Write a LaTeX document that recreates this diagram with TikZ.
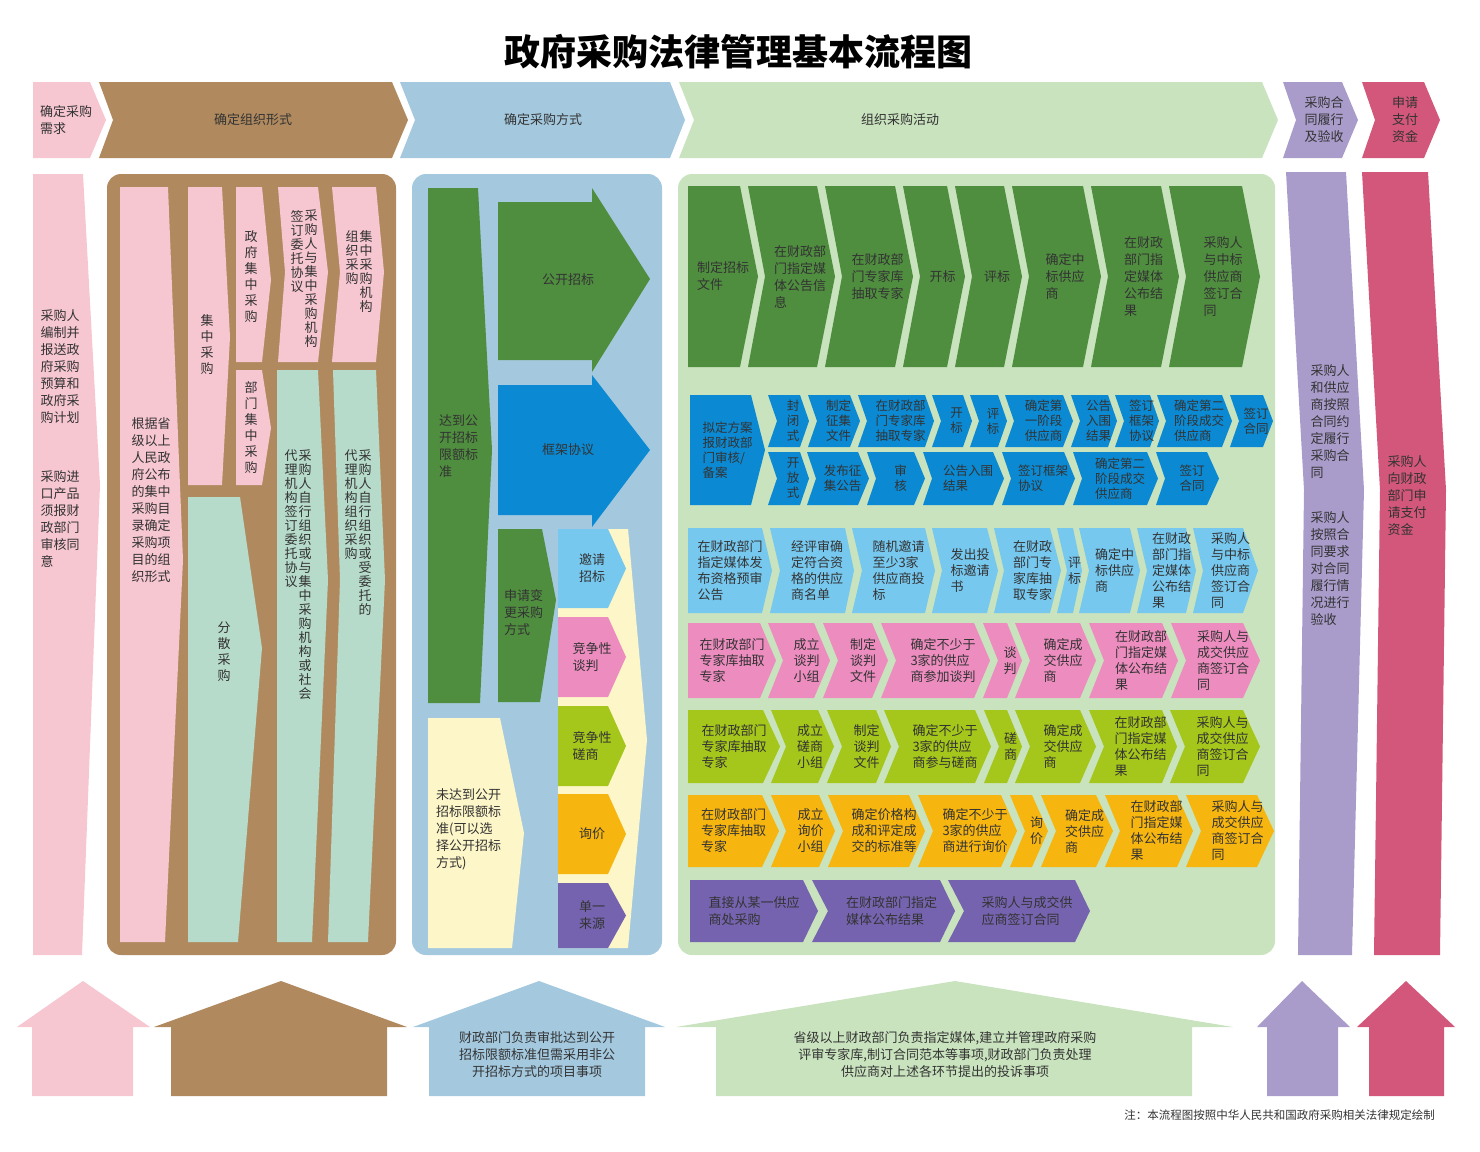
\documentclass[tikz,border=0pt]{standalone}
\usepackage{fontspec}
\setmainfont{Noto Sans CJK SC}
\usetikzlibrary{positioning}

\definecolor{needpink}{HTML}{F6C6D1}
\definecolor{formbrown}{HTML}{B08A5E}
\definecolor{wayblue}{HTML}{A4C9DF}
\definecolor{actgreen}{HTML}{C9E3BE}
\definecolor{checkpurple}{HTML}{A99CCB}
\definecolor{payred}{HTML}{D2577A}
\definecolor{mint}{HTML}{B6DBCA}
\definecolor{darkgreen}{HTML}{4F8D3F}
\definecolor{frameblue}{HTML}{0B89D2}
\definecolor{skyblue}{HTML}{76C8EF}
\definecolor{talkpink}{HTML}{EC8CBF}
\definecolor{limegreen}{HTML}{A5C61A}
\definecolor{askorange}{HTML}{F7B50F}
\definecolor{solepurple}{HTML}{7563AF}
\definecolor{cream}{HTML}{FDF6C8}
\definecolor{textgray}{HTML}{333333}

\newcommand{\drawheader}[8]{% name, colour, x1, x2, tip, notch, text x, text
	\fill[#2] (#3, 82) -- (#4, 82) -- (#5, 120) -- (#4, 158) -- (#3, 158) -- ({#3 + #6}, 120) -- cycle;
	\node[steptext] (#1) at (#7, 120) {#8};
}
\newcommand{\drawchevron}[9]{% name, colour, x1, x2, tip, notch, y1, y2, text
	\fill[#2] (#3, #7) -- (#4, #7) -- (#5, {(#7 + #8)/2}) -- (#4, #8) -- (#3, #8) -- ({#3 + #6}, {(#7 + #8)/2}) -- cycle;
	\node[steptext] (#1) at ({(#3 + #6 + #5)/2}, {(#7 + #8)/2}) {#9};
}
\newcommand{\drawhouse}[6]{% colour, eave left, eave right, body left, body right, peak x
	\fill[#1] (#6, 981) -- (#3, 1027) -- (#5, 1027) -- (#5, 1096) -- (#4, 1096) -- (#4, 1027) -- (#2, 1027) -- cycle;
}

\begin{document}
\begin{tikzpicture}[x=1pt, y=-1pt,
	steptext/.style={align=left, inner sep=0pt, text=textgray, font=\fontsize{13}{17}\selectfont},
	vword/.style={align=center, inner sep=0pt, text=textgray, font=\fontsize{13}{16}\selectfont},
	vcol/.style={align=center, inner sep=0pt, anchor=north, text=textgray, font=\fontsize{13}{14}\selectfont}]
\useasboundingbox (0,0) rectangle (1480,1151);

\node[font=\bfseries\fontsize{36}{40}\selectfont] (title) at (738, 52) {政府采购法律管理基本流程图};

% header row
\drawheader{hdNeed}{needpink}{33}{90}{106}{0}{66}{确定采购\\需求};
\drawheader{hdForm}{formbrown}{99}{392}{408}{14}{253}{确定组织形式};
\drawheader{hdWay}{wayblue}{400}{670}{685}{15}{543}{确定采购方式};
\drawheader{hdAct}{actgreen}{679}{1262}{1278}{15}{900}{组织采购活动};
\drawheader{hdCheck}{checkpurple}{1283}{1342}{1358}{13}{1324}{采购合\\同履行\\及验收};
\drawheader{hdPay}{payred}{1362}{1424}{1440}{13}{1405}{申请\\支付\\资金};

% need
\fill[needpink] (33,174) -- (83,174) -- (100,485) -- (82,955) -- (33,955) -- cycle;
\node[steptext] (needPlan) at (60,367) {采购人\\编制并\\报送政\\府采购\\预算和\\政府采\\购计划};
\node[steptext] (needImport) at (60,519) {采购进\\口产品\\须报财\\政部门\\审核同\\意};

% organisation form
\fill[formbrown, rounded corners=14pt] (107,174) rectangle (396,955);
\fill[needpink] (120,187) -- (168,187) -- (183,560) -- (165,942) -- (120,942) -- cycle;
\node[steptext] (formRule) at (151,500) {根据省\\级以上\\人民政\\府公布\\的集中\\采购目\\录确定\\采购项\\目的组\\织形式};
\fill[needpink] (188,187) -- (222,187) -- (230,337) -- (222,485) -- (188,485) -- cycle;
\node[vword] (formCentral) at (207,345) {集\\中\\采\\购};
\fill[needpink] (236,187) -- (262,187) -- (271,280) -- (262,362) -- (236,362) -- cycle;
\node[vword] (formGov) at (251,277) {政\\府\\集\\中\\采\\购};
\fill[needpink] (236,370) -- (262,370) -- (271,428) -- (262,485) -- (236,485) -- cycle;
\node[vword] (formDept) at (251,428) {部\\门\\集\\中\\采\\购};
\fill[needpink] (278,187) -- (318,187) -- (328,272) -- (318,362) -- (278,362) -- (285,272) -- cycle;
\node[vcol] (formAgreeR) at (311,210) {采\\购\\人\\与\\集\\中\\采\\购\\机\\构};
\node[vcol] (formAgreeL) at (297,210) {签\\订\\委\\托\\协\\议};
\fill[needpink] (332,187) -- (376,187) -- (384,272) -- (376,362) -- (332,362) -- (340,272) -- cycle;
\node[vcol] (formAgencyR) at (366,230) {集\\中\\采\\购\\机\\构};
\node[vcol] (formAgencyL) at (352,230) {组\\织\\采\\购};
\fill[mint] (188,497) -- (240,497) -- (262,648) -- (238,942) -- (188,942) -- cycle;
\node[vword] (formScatter) at (224,652) {分\\散\\采\\购};
\fill[mint] (277,370) -- (318,370) -- (328,580) -- (312,942) -- (277,942) -- cycle;
\node[vcol] (formSelfR) at (305,450) {采\\购\\人\\自\\行\\组\\织\\或\\与\\集\\中\\采\\购\\机\\构\\或\\社\\会};
\node[vcol] (formSelfL) at (291,450) {代\\理\\机\\构\\签\\订\\委\\托\\协\\议};
\fill[mint] (333,370) -- (376,370) -- (385,580) -- (368,942) -- (328,942) -- (340,580) -- cycle;
\node[vcol] (formEntrustR) at (365,450) {采\\购\\人\\自\\行\\组\\织\\或\\受\\委\\托\\的};
\node[vcol] (formEntrustL) at (351,450) {代\\理\\机\\构\\组\\织\\采\\购};

% procurement method
\fill[wayblue, rounded corners=14pt] (412,174) rectangle (662,955);
\fill[darkgreen] (428,188) -- (478,188) -- (492,450) -- (480,703) -- (428,703) -- cycle;
\node[steptext, anchor=west] (wayReach) at (439,446) {达到公\\开招标\\限额标\\准};
\fill[darkgreen] (498,202) -- (592,202) -- (592,188) -- (650,279) -- (592,372) -- (592,360) -- (498,360) -- cycle;
\node[steptext] (wayOpen) at (568,280) {公开招标};
\fill[frameblue] (498,385) -- (592,385) -- (592,375) -- (650,450) -- (592,527) -- (592,515) -- (498,515) -- cycle;
\node[steptext] (wayFrame) at (568,450) {框架协议};
\fill[darkgreen] (498,529) -- (542,529) -- (556,600) -- (540,702) -- (498,702) -- cycle;
\node[steptext, anchor=west] (wayChange) at (504,613) {申请变\\更采购\\方式};
\fill[cream] (428,718) -- (500,718) -- (524,833) -- (512,948) -- (428,948) -- cycle;
\node[steptext, anchor=west] (wayBelow) at (436,829) {未达到公开\\招标限额标\\准(可以选\\择公开招标\\方式)};
\fill[cream] (558,529) -- (628,529) -- (647,740) -- (628,948) -- (558,948) -- cycle;
\drawchevron{wayInvite}{skyblue}{558}{608}{626}{0}{529}{608}{邀请\\招标};
\drawchevron{wayTalk}{talkpink}{558}{608}{626}{0}{617}{697}{竞争性\\谈判};
\drawchevron{wayConsult}{limegreen}{558}{608}{626}{0}{706}{786}{竞争性\\磋商};
\drawchevron{wayAsk}{askorange}{558}{608}{626}{0}{794}{874}{询价};
\drawchevron{waySole}{solepurple}{558}{608}{626}{0}{883}{948}{单一\\来源};

% activities
\fill[actgreen, rounded corners=14pt] (678,174) rectangle (1275,955);
\drawchevron{open1}{darkgreen}{688}{740}{758}{0}{186}{367}{制定招标\\文件};
\drawchevron{open2}{darkgreen}{748}{817}{835}{17}{186}{367}{在财政部\\门指定媒\\体公告信\\息};
\drawchevron{open3}{darkgreen}{825}{895}{913}{17}{186}{367}{在财政部\\门专家库\\抽取专家};
\drawchevron{open4}{darkgreen}{903}{947}{965}{17}{186}{367}{开标};
\drawchevron{open5}{darkgreen}{955}{1004}{1022}{17}{186}{367}{评标};
\drawchevron{open6}{darkgreen}{1012}{1083}{1101}{17}{186}{367}{确定中\\标供应\\商};
\drawchevron{open7}{darkgreen}{1091}{1161}{1179}{17}{186}{367}{在财政\\部门指\\定媒体\\公布结\\果};
\drawchevron{open8}{darkgreen}{1169}{1242}{1260}{17}{186}{367}{采购人\\与中标\\供应商\\签订合\\同};

\begin{scope}[steptext/.append style={font=\fontsize{12.5}{15}\selectfont}]
\drawchevron{frame0}{frameblue}{690}{751}{765}{0}{395}{505}{拟定方案\\报财政部\\门审核/\\备案};
\drawchevron{frameA1}{frameblue}{768}{800}{809}{9}{395}{447}{封\\闭\\式};
\drawchevron{frameA2}{frameblue}{808}{850}{860}{9}{395}{447}{制定\\征集\\文件};
\drawchevron{frameA3}{frameblue}{858}{925}{934}{9}{395}{447}{在财政部\\门专家库\\抽取专家};
\drawchevron{frameA4}{frameblue}{932}{963}{972}{9}{395}{447}{开\\标};
\drawchevron{frameA5}{frameblue}{970}{998}{1007}{9}{395}{447}{评\\标};
\drawchevron{frameA6}{frameblue}{1005}{1063}{1073}{9}{395}{447}{确定第\\一阶段\\供应商};
\drawchevron{frameA7}{frameblue}{1071}{1108}{1117}{9}{395}{447}{公告\\入围\\结果};
\drawchevron{frameA8}{frameblue}{1115}{1150}{1159}{9}{395}{447}{签订\\框架\\协议};
\drawchevron{frameA9}{frameblue}{1157}{1222}{1232}{9}{395}{447}{确定第二\\阶段成交\\供应商};
\drawchevron{frameA10}{frameblue}{1230}{1263}{1273}{9}{395}{447}{签订\\合同};
\drawchevron{frameB1}{frameblue}{768}{800}{809}{9}{452}{505}{开\\放\\式};
\drawchevron{frameB2}{frameblue}{807}{858}{869}{9}{452}{505}{发布征\\集公告};
\drawchevron{frameB3}{frameblue}{867}{914}{925}{9}{452}{505}{审\\核};
\drawchevron{frameB4}{frameblue}{923}{993}{1004}{9}{452}{505}{公告入围\\结果};
\drawchevron{frameB5}{frameblue}{1002}{1064}{1075}{9}{452}{505}{签订框架\\协议};
\drawchevron{frameB6}{frameblue}{1073}{1147}{1158}{9}{452}{505}{确定第二\\阶段成交\\供应商};
\drawchevron{frameB7}{frameblue}{1156}{1207}{1219}{9}{452}{505}{签订\\合同};
\end{scope}

\begin{scope}[steptext/.append style={font=\fontsize{13}{16}\selectfont}]
\drawchevron{invite1}{skyblue}{688}{762}{772}{0}{528}{613}{在财政部门\\指定媒体发\\布资格预审\\公告};
\drawchevron{invite2}{skyblue}{770}{845}{854}{10}{528}{613}{经评审确\\定符合资\\格的供应\\商名单};
\drawchevron{invite3}{skyblue}{852}{925}{935}{10}{528}{613}{随机邀请\\至少3家\\供应商投\\标};
\drawchevron{invite4}{skyblue}{932}{987}{998}{10}{528}{613}{发出投\\标邀请\\书};
\drawchevron{invite5}{skyblue}{994}{1050}{1061}{10}{528}{613}{在财政\\部门专\\家库抽\\取专家};
\drawchevron{invite6}{skyblue}{1057}{1073}{1082}{10}{528}{613}{评\\标};
\drawchevron{invite7}{skyblue}{1079}{1130}{1140}{10}{528}{613}{确定中\\标供应\\商};
\drawchevron{invite8}{skyblue}{1137}{1186}{1196}{10}{528}{613}{在财政\\部门指\\定媒体\\公布结\\果};
\drawchevron{invite9}{skyblue}{1193}{1243}{1258}{10}{528}{613}{采购人\\与中标\\供应商\\签订合\\同};

\drawchevron{talk1}{talkpink}{688}{760}{776}{0}{623}{698}{在财政部门\\专家库抽取\\专家};
\drawchevron{talk2}{talkpink}{768}{814}{830}{15}{623}{698}{成立\\谈判\\小组};
\drawchevron{talk3}{talkpink}{823}{872}{888}{15}{623}{698}{制定\\谈判\\文件};
\drawchevron{talk4}{talkpink}{881}{974}{990}{15}{623}{698}{确定不少于\\3家的供应\\商参加谈判};
\drawchevron{talk5}{talkpink}{983}{1007}{1022}{15}{623}{698}{谈\\判};
\drawchevron{talk6}{talkpink}{1015}{1080}{1096}{15}{623}{698}{确定成\\交供应\\商};
\drawchevron{talk7}{talkpink}{1089}{1162}{1178}{15}{623}{698}{在财政部\\门指定媒\\体公布结\\果};
\drawchevron{talk8}{talkpink}{1171}{1243}{1260}{15}{623}{698}{采购人与\\成交供应\\商签订合\\同};

\drawchevron{consult1}{limegreen}{688}{763}{780}{0}{710}{783}{在财政部门\\专家库抽取\\专家};
\drawchevron{consult2}{limegreen}{771}{818}{834}{15}{710}{783}{成立\\磋商\\小组};
\drawchevron{consult3}{limegreen}{827}{876}{891}{15}{710}{783}{制定\\谈判\\文件};
\drawchevron{consult4}{limegreen}{884}{975}{991}{15}{710}{783}{确定不少于\\3家的供应\\商参与磋商};
\drawchevron{consult5}{limegreen}{984}{1007}{1022}{15}{710}{783}{磋\\商};
\drawchevron{consult6}{limegreen}{1015}{1080}{1096}{15}{710}{783}{确定成\\交供应\\商};
\drawchevron{consult7}{limegreen}{1089}{1162}{1177}{15}{710}{783}{在财政部\\门指定媒\\体公布结\\果};
\drawchevron{consult8}{limegreen}{1170}{1243}{1260}{15}{710}{783}{采购人与\\成交供应\\商签订合\\同};

\drawchevron{ask1}{askorange}{688}{762}{779}{0}{795}{867}{在财政部门\\专家库抽取\\专家};
\drawchevron{ask2}{askorange}{771}{819}{835}{15}{795}{867}{成立\\询价\\小组};
\drawchevron{ask3}{askorange}{828}{909}{925}{15}{795}{867}{确定价格构\\成和评定成\\交的标准等};
\drawchevron{ask4}{askorange}{918}{1001}{1017}{15}{795}{867}{确定不少于\\3家的供应\\商进行询价};
\drawchevron{ask5}{askorange}{1010}{1032}{1048}{15}{795}{867}{询\\价};
\drawchevron{ask6}{askorange}{1041}{1096}{1113}{15}{795}{867}{确定成\\交供应\\商};
\drawchevron{ask7}{askorange}{1105}{1177}{1193}{15}{795}{867}{在财政部\\门指定媒\\体公布结\\果};
\drawchevron{ask8}{askorange}{1186}{1257}{1274}{15}{795}{867}{采购人与\\成交供应\\商签订合\\同};
\end{scope}

\drawchevron{sole1}{solepurple}{690}{803}{818}{0}{880}{942}{直接从某一供应\\商处采购};
\drawchevron{sole2}{solepurple}{812}{940}{955}{16}{880}{942}{在财政部门指定\\媒体公布结果};
\drawchevron{sole3}{solepurple}{948}{1075}{1090}{16}{880}{942}{采购人与成交供\\应商签订合同};

% contract and payment
\fill[checkpurple] (1286,172) -- (1346,172) -- (1364,490) -- (1352,955) -- (1298,955) -- (1304,490) -- cycle;
\node[steptext] (checkDo) at (1330,422) {采购人\\和供应\\商按照\\合同约\\定履行\\采购合\\同};
\node[steptext] (checkAccept) at (1330,569) {采购人\\按照合\\同要求\\对合同\\履行情\\况进行\\验收};
\fill[payred] (1362,172) -- (1428,172) -- (1446,490) -- (1440,955) -- (1374,955) -- (1380,490) -- cycle;
\node[steptext] (payApply) at (1407,496) {采购人\\向财政\\部门申\\请支付\\资金};

% supervision
\drawhouse{needpink}{17}{150}{32}{133}{83};
\drawhouse{formbrown}{154}{407}{171}{387}{281};
\drawhouse{wayblue}{413}{665}{429}{645}{539};
\drawhouse{actgreen}{676}{1233}{716}{1192}{955};
\drawhouse{checkpurple}{1257}{1350}{1267}{1338}{1302};
\drawhouse{payred}{1357}{1455}{1369}{1444}{1406};
\node[steptext, align=center] (wayDuty) at (537,1055) {财政部门负责审批达到公开\\招标限额标准但需采用非公\\开招标方式的项目事项};
\node[steptext, align=center] (actDuty) at (945,1055) {省级以上财政部门负责指定媒体,建立并管理政府采购\\评审专家库,制订合同范本等事项,财政部门负责处理\\供应商对上述各环节提出的投诉事项};
\node[anchor=east, inner sep=0pt, text=textgray, font=\fontsize{11.5}{14}\selectfont] (note) at (1435,1115) {注：本流程图按照中华人民共和国政府采购相关法律规定绘制};

\end{tikzpicture}
\end{document}
